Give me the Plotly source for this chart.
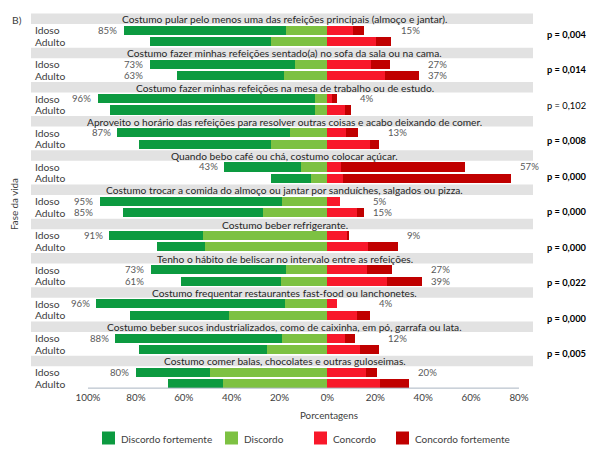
import plotly.graph_objects as go

questions = [
    "Costumo pular pelo menos uma das refeições principais (almoço e jantar).",
    "Costumo fazer minhas refeições sentado(a) no sofa da sala ou na cama.",
    "Costumo fazer minhas refeições na mesa de trabalho ou de estudo.",
    "Aproveito o horário das refeições para resolver outras coisas e acabo deixando de comer.",
    "Quando bebo café ou chá, costumo colocar açúcar.",
    "Costumo trocar a comida do almoço ou jantar por sanduíches, salgados ou pizza.",
    "Costumo beber refrigerante.",
    "Tenho o hábito de beliscar no intervalo entre as refeições.",
    "Costumo frequentar restaurantes fast-food ou lanchonetes.",
    "Costumo beber sucos industrializados, como de caixinha, em pó, garrafa ou lata.",
    "Costumo comer balas, chocolates e outras guloseimas.",
]

idoso_df = [67.5, 60.5, 90.7, 72.0, 31.9, 76.0, 39.0, 56.5, 78.7, 69.7, 30.9]
idoso_d = [17.5, 13.5, 5.3, 15.7, 11.1, 18.9, 52.1, 17.1, 17.8, 18.9, 49.0]
idoso_c = [10.8, 18.3, 2.0, 7.9, 5.8, 5.1, 8.3, 16.7, 3.8, 7.2, 16.3]
idoso_cf = [4.4, 8.0, 2.2, 4.9, 51.7, 0.0, 0.9, 10.3, 0.0, 4.2, 4.2]

adulto_df = [50.4, 44.5, 85.4, 55.3, 16.6, 58.7, 20.1, 41.7, 41.5, 53.5, 23.2]
adulto_d = [23.6, 18.3, 5.3, 23.6, 7.0, 26.8, 51.1, 19.4, 41.1, 25.4, 43.5]
adulto_c = [20.4, 24.2, 7.5, 17.6, 6.5, 12.5, 17.0, 25.0, 12.5, 13.8, 21.8]
adulto_cf = [6.3, 13.9, 2.2, 3.8, 70.1, 2.8, 12.5, 14.4, 5.4, 7.6, 12.1]

idoso_left_lbl = ["85%", "73%", "96%", "87%", "43%", "95%", "91%", "73%", "96%", "88%", "80%"]
idoso_right_lbl = ["15%", "27%", "4%", "13%", "57%", "5%", "9%", "27%", "4%", "12%", "20%"]
adulto_left_lbl = [None, "63%", None, None, None, "85%", None, "61%", None, None, None]
adulto_right_lbl = [None, "37%", None, None, None, "15%", None, "39%", None, None, None]

p_values = ["p = 0,004", "p = 0,014", "p = 0,102", "p = 0,008", "p = 0,000",
            "p = 0,000", "p = 0,000", "p = 0,022", "p = 0,000", "p = 0,005"]
p_bold = [True, True, False, True, True, True, True, True, True, True]

group_labels = ["Idoso", "Adulto"]
legend_names = ["Discordo fortemente", "Discordo", "Concordo", "Concordo fortemente"]
x_tickvals = [-100, -80, -60, -40, -20, 0, 20, 40, 60, 80]
x_ticktext = ["100%", "80%", "60%", "40%", "20%", "0%", "20%", "40%", "60%", "80%"]

FONT = "Lato, sans-serif"
C_DF = "#0c9a40"
C_D = "#7dc142"
C_C = "#f8182a"
C_CF = "#c00000"
legend_colors = [C_DF, C_D, C_C, C_CF]

# plot-area geometry (pixels) used to place the hand-made legend
PL, PR, PT, PB = 31, 533, 13, 390
def px_x(px):
    return (px - PL) / (PR - PL)
def px_y(py):
    return (PB - py) / (PB - PT)

n = len(questions)
y_id = [3 * i + 1 for i in range(n)]
y_ad = [3 * i + 2 for i in range(n)]
ys = []
for i in range(n):
    ys += [y_id[i], y_ad[i]]

def inter(a, b):
    out = []
    for i in range(n):
        out += [a[i], b[i]]
    return out

fig = go.Figure()
series = [
    ("Discordo", C_D, [-v for v in inter(idoso_d, adulto_d)]),
    ("Discordo fortemente", C_DF, [-v for v in inter(idoso_df, adulto_df)]),
    ("Concordo", C_C, inter(idoso_c, adulto_c)),
    ("Concordo fortemente", C_CF, inter(idoso_cf, adulto_cf)),
]
for name, col, vals in series:
    fig.add_trace(go.Bar(
        x=vals, y=ys, orientation="h", name=name, marker=dict(color=col, line=dict(width=0)),
        width=0.8, hoverinfo="skip", showlegend=False))

shapes = []
ann = []
for i, q in enumerate(questions):
    shapes.append(dict(type="rect", xref="paper", yref="y", x0=0, x1=1,
                       y0=3 * i - 0.46, y1=3 * i + 0.46, fillcolor="#e2e2e2",
                       line=dict(width=0), layer="below"))
    ann.append(dict(text=q, xref="paper", yref="y", x=0.505, y=3 * i + 0.05, showarrow=False,
                    xanchor="center", yanchor="middle", font=dict(size=10.2, color="#262626")))
    for lbl, yy in zip(group_labels, [y_id[i], y_ad[i]]):
        ann.append(dict(text=lbl, xref="paper", yref="y", x=0.004, y=yy, showarrow=False,
                        xanchor="left", yanchor="middle", font=dict(size=10.3, color="#404040")))
    left_max = max(idoso_df[i] + idoso_d[i], adulto_df[i] + adulto_d[i])
    right_max = max(idoso_c[i] + idoso_cf[i], adulto_c[i] + adulto_cf[i])
    for lbl_l, lbl_r, yy in [(idoso_left_lbl[i], idoso_right_lbl[i], y_id[i]),
                             (adulto_left_lbl[i], adulto_right_lbl[i], y_ad[i])]:
        if lbl_l:
            ann.append(dict(text=lbl_l, x=-(left_max + 2.0), y=yy, xref="x", yref="y",
                            showarrow=False, xanchor="right", yanchor="middle",
                            font=dict(size=9.6, color="#595959")))
        if lbl_r:
            ann.append(dict(text=lbl_r, x=right_max + 3.0, y=yy, xref="x", yref="y",
                            showarrow=False, xanchor="left", yanchor="middle",
                            font=dict(size=9.6, color="#595959")))

for i, (p, b) in enumerate(zip(p_values, p_bold)):
    ann.append(dict(text=f"<b>{p}</b>" if b else p, xref="paper", yref="y", x=1.024,
                    y=1.38 + 3.108 * i, showarrow=False, xanchor="left", yanchor="middle",
                    font=dict(size=9.3, color="#000000")))

ann.append(dict(text="B)", xref="paper", yref="y", x=-0.042, y=0.1, showarrow=False,
                xanchor="left", yanchor="middle", font=dict(size=10.3, color="#404040")))
ann.append(dict(text="Fase da vida", xref="paper", yref="paper", x=-0.034, y=0.493,
                textangle=-90, showarrow=False, xanchor="center", yanchor="middle",
                font=dict(size=9.8, color="#404040")))
ann.append(dict(text="Porcentagens", xref="x", yref="paper", x=0.5, y=px_y(415),
                showarrow=False, xanchor="center", yanchor="middle",
                font=dict(size=9.8, color="#404040")))

# hand-made legend (squares + labels)
leg_sq_x = [102, 225, 314, 396]
for name, col, sx in zip(legend_names, legend_colors, leg_sq_x):
    shapes.append(dict(type="rect", xref="paper", yref="paper",
                       x0=px_x(sx), x1=px_x(sx + 13), y0=px_y(444.5), y1=px_y(431.5),
                       fillcolor=col, line=dict(width=0)))
    ann.append(dict(text=name, xref="paper", yref="paper", x=px_x(sx + 17), y=px_y(438.5),
                    showarrow=False, xanchor="left", yanchor="middle",
                    font=dict(size=10, color="#404040")))

shapes.append(dict(type="line", xref="x", yref="paper", x0=x_tickvals[0], x1=x_tickvals[-1],
                   y0=0.005, y1=0.005, line=dict(color="#a9b4c2", width=1)))

fig.update_layout(
    width=592, height=453,
    margin=dict(l=PL, r=592 - PR, t=PT, b=453 - PB),
    plot_bgcolor="white", paper_bgcolor="white",
    barmode="relative", bargap=0,
    font=dict(family=FONT, size=10, color="#404040"),
    xaxis=dict(range=[-123.8, 85.85], tickvals=x_tickvals, ticktext=x_ticktext,
               showgrid=False, zeroline=False, showline=False, ticks="",
               tickfont=dict(size=9.8, color="#404040"), fixedrange=True),
    yaxis=dict(range=[32.55, -0.5], showticklabels=False, showgrid=False,
               zeroline=False, showline=False, ticks="", fixedrange=True),
    showlegend=False,
    shapes=shapes, annotations=ann,
)

fig.write_html("out.html")
